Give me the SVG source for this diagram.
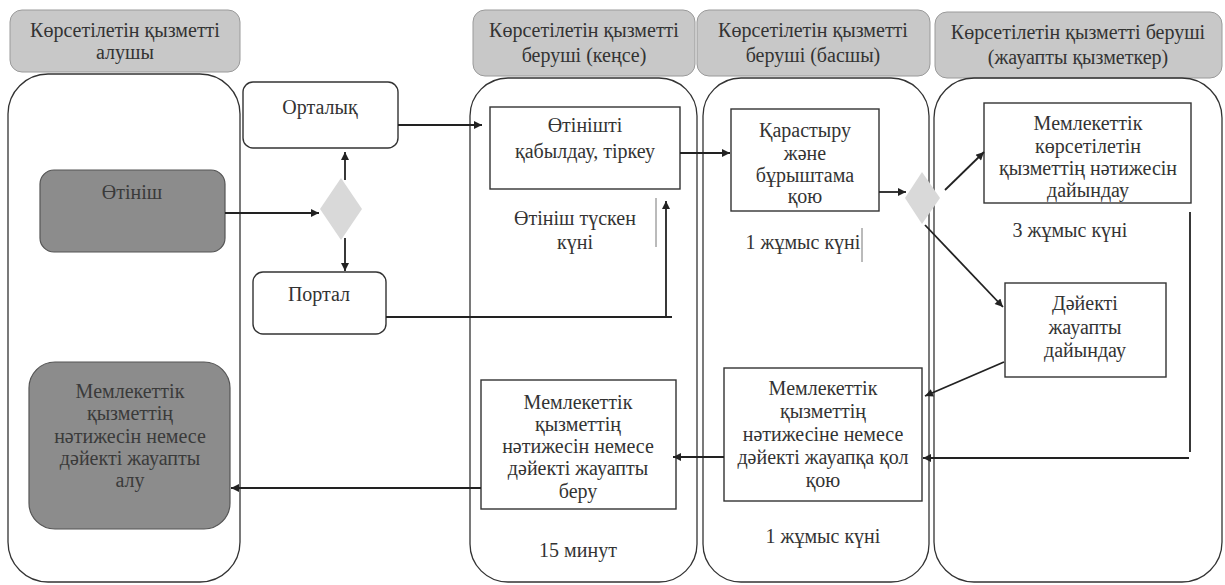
<svg xmlns="http://www.w3.org/2000/svg" width="1225" height="585" viewBox="0 0 1225 585">
<defs>
<marker id="ah" viewBox="0 0 10 10" refX="10" refY="5" markerWidth="10" markerHeight="8" markerUnits="userSpaceOnUse" orient="auto">
<path d="M0,0 L10,5 L0,10 z" fill="#222"/>
</marker>
</defs>
<style>
text{font-family:"Liberation Serif","DejaVu Serif","Times New Roman",serif;font-size:20px;fill:#333;text-anchor:middle;dominant-baseline:central}
.hdr{fill:#c8c8c8;stroke:#9a9a9a;stroke-width:1}
.lane{fill:none;stroke:#333;stroke-width:1.3}
.box{fill:#fff;stroke:#333;stroke-width:1.4}
.dark{fill:#8c8c8c;stroke:#555;stroke-width:1.2}
.dtext{fill:#3a3a3a}
.dia{fill:#d9d9d9;stroke:none}
.c{fill:none;stroke:#222;stroke-width:1.8}
.thin{fill:none;stroke:#777;stroke-width:1}
</style>
<rect width="1225" height="585" fill="#fff"/>

<g id="lanes">
<g id="lane1"><rect class="hdr" x="10" y="10" width="230" height="62" rx="12"/><text x="125" y="30">Көрсетілетін қызметті</text><text x="125" y="52">алушы</text><rect class="lane" x="8" y="74" width="232" height="508" rx="40"/></g>
<g id="lane2"><rect class="hdr" x="473" y="10" width="222" height="66" rx="12"/><text x="584" y="30">Көрсетілетін қызметті</text><text x="584" y="55">беруші (кеңсе)</text><rect class="lane" x="470" y="78" width="227" height="504" rx="38"/></g>
<g id="lane3"><rect class="hdr" x="697" y="10" width="233" height="66" rx="12"/><text x="813" y="30">Көрсетілетін қызметті</text><text x="813" y="55">беруші (басшы)</text><rect class="lane" x="703" y="78" width="226" height="504" rx="38"/></g>
<g id="lane4"><rect class="hdr" x="935" y="12" width="287" height="66" rx="12"/><text x="1078" y="32">Көрсетілетін қызметті беруші</text><text x="1078" y="57">(жауапты қызметкер)</text><rect class="lane" x="934" y="78" width="288" height="504" rx="40"/></g>
</g>

<g id="n-otinish"><rect class="dark" x="40" y="170" width="185" height="82" rx="14"/><text class="dtext" x="132" y="192">Өтініш</text></g>
<g id="n-result"><rect class="dark" x="29" y="362" width="201" height="167" rx="26"/><text class="dtext" x="130" y="391">Мемлекеттік</text><text class="dtext" x="130" y="413">қызметтің</text><text class="dtext" x="130" y="436">нәтижесін немесе</text><text class="dtext" x="130" y="458">дәйекті жауапты</text><text class="dtext" x="130" y="480">алу</text></g>
<g id="n-ortalyk"><rect class="box" x="243" y="82" width="155" height="66" rx="10"/><text x="320" y="107">Орталық</text></g>
<g id="n-dia1"><polygon class="dia" points="341,178 362,209 341,240 320,209"/></g>
<g id="n-portal"><rect class="box" x="253" y="272" width="133" height="62" rx="10"/><text x="319" y="294">Портал</text></g>
<g id="n-tirkeu"><rect class="box" x="490" y="107" width="190" height="82"/><text x="585" y="125">Өтінішті</text><text x="585" y="151">қабылдау, тіркеу</text></g>
<g id="l-tuskensuni"><text x="575" y="218">Өтініш түскен</text><text x="575" y="242">күні</text></g>
<g id="n-karastyru"><rect class="box" x="731" y="109" width="148" height="102"/><text x="805" y="130">Қарастыру</text><text x="805" y="153">және</text><text x="805" y="175">бұрыштама</text><text x="805" y="196">қою</text></g>
<g id="l-1kun-a"><text x="803" y="242">1 жұмыс күні</text></g>
<g id="n-dia2"><polygon class="dia" points="922,172 940,198 922,224 905,198"/></g>
<g id="n-dayindau"><rect class="box" x="984" y="103" width="207" height="100"/><text x="1088" y="123">Мемлекеттік</text><text x="1088" y="146">көрсетілетін</text><text x="1088" y="168">қызметтің нәтижесін</text><text x="1088" y="190">дайындау</text></g>
<g id="l-3kun"><text x="1070" y="230">3 жұмыс күні</text></g>
<g id="n-dayekti"><rect class="box" x="1005" y="283" width="161" height="94"/><text x="1085" y="303">Дәйекті</text><text x="1085" y="327">жауапты</text><text x="1085" y="350">дайындау</text></g>
<g id="n-qol"><rect class="box" x="724" y="368" width="198" height="133"/><text x="823" y="388">Мемлекеттік</text><text x="823" y="411">қызметтің</text><text x="823" y="434">нәтижесіне немесе</text><text x="823" y="457">дәйекті жауапқа қол</text><text x="823" y="480">қою</text></g>
<g id="l-1kun-b"><text x="823" y="536">1 жұмыс күні</text></g>
<g id="n-beru"><rect class="box" x="481" y="380" width="195" height="129"/><text x="578" y="402">Мемлекеттік</text><text x="578" y="424">қызметтің</text><text x="578" y="446">нәтижесін немесе</text><text x="578" y="468">дәйекті жауапты</text><text x="578" y="491">беру</text></g>
<g id="l-15min"><text x="578" y="550">15 минут</text></g>

<g id="connectors">
<line class="c" x1="225" y1="213" x2="319" y2="213" marker-end="url(#ah)"/>
<line class="c" x1="345" y1="180" x2="345" y2="152" marker-end="url(#ah)"/>
<line class="c" x1="345" y1="238" x2="345" y2="271" marker-end="url(#ah)"/>
<line class="c" x1="398" y1="125" x2="482" y2="125" marker-end="url(#ah)"/>
<polyline class="c" points="386,317 672,317"/>
<line class="c" x1="666" y1="317" x2="666" y2="201" marker-end="url(#ah)"/>
<line class="c" x1="680" y1="153" x2="730" y2="153" marker-end="url(#ah)"/>
<line class="c" x1="879" y1="192" x2="906" y2="192" marker-end="url(#ah)"/>
<line class="c" x1="945" y1="190" x2="984" y2="152" marker-end="url(#ah)"/>
<line class="c" x1="925" y1="225" x2="1003" y2="307" marker-end="url(#ah)"/>
<line class="c" x1="1004" y1="362" x2="925" y2="396" marker-end="url(#ah)"/>
<line class="c" x1="1190" y1="212" x2="1190" y2="452"/>
<line class="c" x1="1189" y1="458" x2="923" y2="458" marker-end="url(#ah)"/>
<line class="c" x1="724" y1="457" x2="673" y2="457" marker-end="url(#ah)"/>
<line class="c" x1="481" y1="488" x2="231" y2="488" marker-end="url(#ah)"/>
<line class="thin" x1="656" y1="198" x2="656" y2="247"/>
<line class="thin" x1="862" y1="228" x2="862" y2="262"/>
</g>
</svg>
